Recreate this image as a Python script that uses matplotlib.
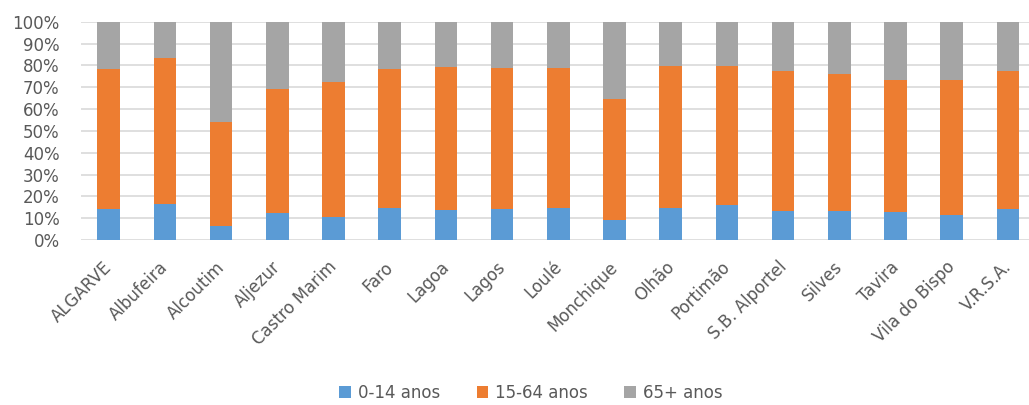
import matplotlib
matplotlib.use('Agg')
import matplotlib.pyplot as plt
import matplotlib.transforms as mtransforms
import numpy as np

# Population share by age group (%)
municipios = ['ALGARVE', 'Albufeira', 'Alcoutim', 'Aljezur', 'Castro Marim', 'Faro', 'Lagoa', 'Lagos',
              'Loulé', 'Monchique', 'Olhão', 'Portimão', 'S.B. Alportel', 'Silves', 'Tavira',
              'Vila do Bispo', 'V.R.S.A.']
jovens = [14.2, 16.5, 6.3, 12.2, 10.4, 14.8, 13.7, 14.2, 14.8, 9.0, 14.8, 15.9, 13.1, 13.1, 12.7, 11.6, 14.2]
# cumulative top of the 15-64 segment
topo_ativos = [78.2, 83.5, 54.2, 69.0, 72.4, 78.2, 79.2, 78.8, 78.8, 64.7, 79.8, 79.8, 77.6, 76.2, 73.4, 73.4, 77.6]
series_labels = ['0-14 anos', '15-64 anos', '65+ anos']
colors = ['#5B9BD5', '#ED7D31', '#A5A5A5']

ativos = [t - j for t, j in zip(topo_ativos, jovens)]
idosos = [100 - t for t in topo_ativos]

fig = plt.figure(figsize=(10.29, 4.05), dpi=100)
ax = fig.add_axes([0.0783, 0.4074, 0.9217, 0.539])

x = np.arange(len(municipios))
w = 0.4
ax.bar(x, jovens, w, color=colors[0], label=series_labels[0], zorder=3)
ax.bar(x, ativos, w, bottom=jovens, color=colors[1], label=series_labels[1], zorder=3)
ax.bar(x, idosos, w, bottom=topo_ativos, color=colors[2], label=series_labels[2], zorder=3)

ax.set_xlim(-0.5, 16.375)
ax.set_ylim(0, 100)
ax.set_yticks(np.arange(0, 101, 10))
ax.set_yticklabels([f'{v}%' for v in range(0, 101, 10)])
ax.grid(axis='y', color='#D9D9D9', linewidth=1.2, zorder=0)
for s in ax.spines.values():
    s.set_visible(False)
ax.tick_params(axis='both', length=0, labelsize=12, labelcolor='#595959')
ax.tick_params(axis='y', pad=15)
ax.tick_params(axis='x', pad=13)
ax.set_xticks(x)
ax.set_xticklabels(municipios, rotation=45, ha='right', rotation_mode='anchor')
# nudge rotated labels a little to the left
offset = mtransforms.ScaledTranslation(-4 / 72, 0, fig.dpi_scale_trans)
for lbl in ax.get_xticklabels():
    lbl.set_transform(lbl.get_transform() + offset)

fig.legend(loc='center', bbox_to_anchor=(0.516, 0.03), ncol=3, frameon=False, fontsize=12,
           labelcolor='#595959', handlelength=0.7, handleheight=0.7, handletextpad=0.4,
           columnspacing=2.2)

fig.savefig('out.png', dpi=100)
